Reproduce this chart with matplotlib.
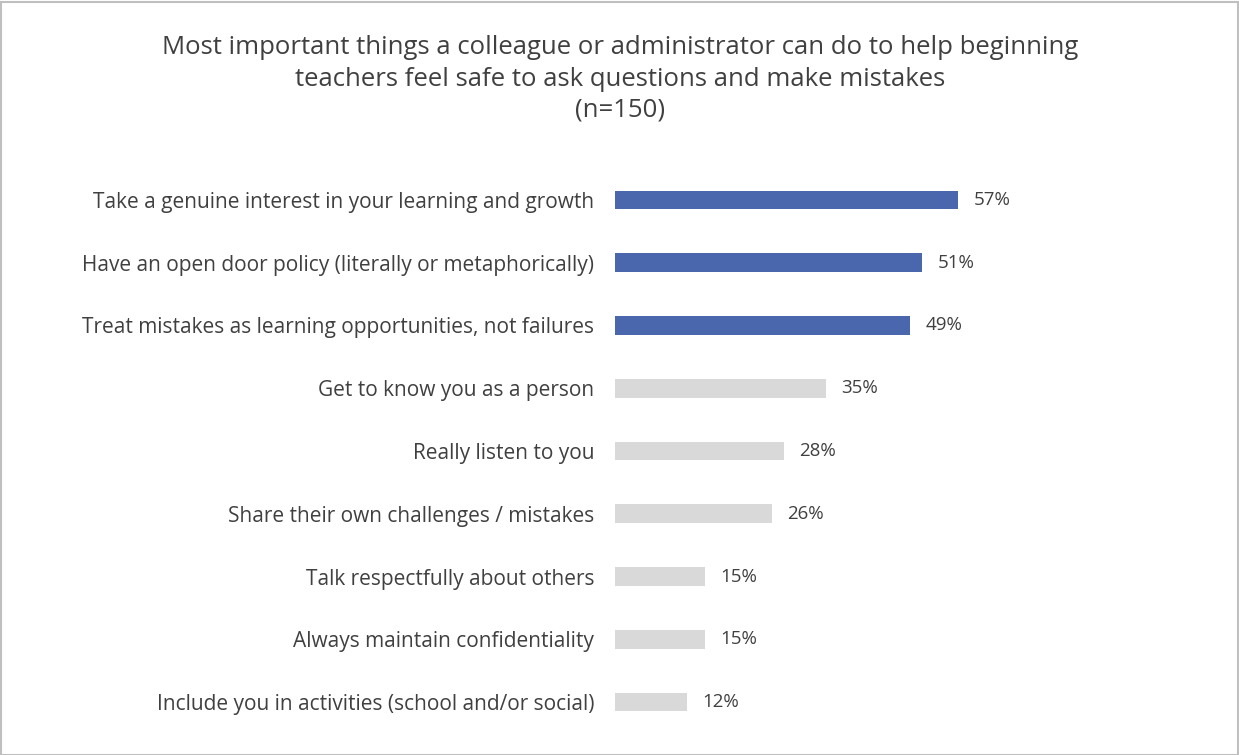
import matplotlib.pyplot as plt
from matplotlib.patches import Rectangle

plt.rcParams['font.family'] = ['Open Sans', 'DejaVu Sans']

categories = [
    'Take a genuine interest in your learning and growth',
    'Have an open door policy (literally or metaphorically)',
    'Treat mistakes as learning opportunities, not failures',
    'Get to know you as a person',
    'Really listen to you',
    'Share their own challenges / mistakes',
    'Talk respectfully about others',
    'Always maintain confidentiality',
    'Include you in activities (school and/or social)',
]
values = [57, 51, 49, 35, 28, 26, 15, 15, 12]
highlight = [True, True, True, False, False, False, False, False, False]

text_color = '#404040'
colors = ['#4A66AC' if h else '#D9D9D9' for h in highlight]

W, H = 1239, 755
fig = plt.figure(figsize=(W / 100, H / 100), dpi=100)
fig.patches.append(Rectangle((0.5 / W, 0.5 / H), 1 - 2 / W, 1 - 2 / H,
                             transform=fig.transFigure, fill=False,
                             edgecolor='#BFBFBF', linewidth=1.5))

left, right = 615, 1217
top, bottom = 168.6, 733.4
ax = fig.add_axes([left / W, 1 - bottom / H, (right - left) / W, (bottom - top) / H])

y = list(range(len(categories)))
ax.barh(y, values, height=0.3, color=colors)
ax.set_xlim(0, 100)
ax.set_ylim(len(categories) - 0.5, -0.5)
ax.set_yticks(y)
ax.set_yticklabels(categories, fontsize=15, color=text_color)
ax.tick_params(axis='y', length=0, pad=15)
ax.set_xticks([])
for s in ax.spines.values():
    s.set_visible(False)

for yi, v in zip(y, values):
    ax.annotate(f'{v}%', (v, yi), xytext=(11, 0), textcoords='offset points',
                va='center', ha='left', fontsize=13.5, color=text_color)

fig.text(620 / W, 1 - 79 / H,
         'Most important things a colleague or administrator can do to help beginning\n'
         'teachers feel safe to ask questions and make mistakes\n(n=150)',
         ha='center', va='center', fontsize=18.5, color=text_color, linespacing=1.33)

fig.savefig('out.png', dpi=100)
